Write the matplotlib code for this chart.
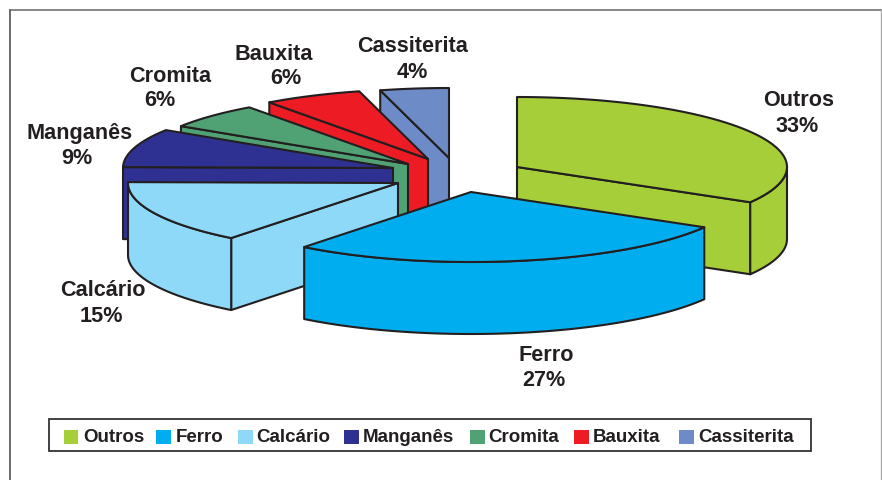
import numpy as np
import matplotlib
matplotlib.use("Agg")
import matplotlib.pyplot as plt
from matplotlib.patches import Polygon, Rectangle

names = ["Outros", "Ferro", "Calcário", "Manganês", "Cromita", "Bauxita", "Cassiterita"]
values = [33.4, 27.2, 14.6, 8.9, 5.9, 5.9, 4.1]
colors = ["#A6CE39", "#00AEEF", "#8ED8F8", "#2E3192", "#50A275", "#ED1C24", "#6C8BC7"]

# exploded slice apex positions (pixels) and label centres
apex = [(517, 168), (471, 193), (398, 184), (393, 169), (408, 165), (428, 160), (449, 159)]
name_pos = [(799, 100), (546, 356), (103, 291), (80, 134), (170, 77), (274, 54), (413, 47)]
pct_pos = [(797, 127), (544, 381), (101, 317), (77, 159), (160, 100), (286, 79), (412, 72)]
legend_sw = [63.5, 156, 238, 344, 470, 574, 679]
legend_tx = [83, 175.5, 256.5, 363, 488, 593, 698]

RX, RY, DEPTH = 270, 70, 72
EDGE = "#231F20"
LW = 1.5
FONT = "Liberation Sans"

fig = plt.figure(figsize=(8.82, 4.81), dpi=100, facecolor="white")
ax = fig.add_axes([0, 0, 1, 1])
ax.set_xlim(0, 882)
ax.set_ylim(481, 0)
ax.axis("off")

# page frame
ax.plot([10, 10], [481, 11], color="#444444", lw=1.1)
ax.plot([10, 881], [11, 11], color="#666666", lw=1.1)
ax.plot([881, 881], [11, 481], color="#AAAAAA", lw=1.0)


def pt(c, deg):
    a = np.radians(deg)
    return np.column_stack([c[0] + RX * np.sin(a), c[1] - RY * np.cos(a)])


def face(xy, color, z):
    ax.add_patch(Polygon(xy, closed=True, facecolor=color, edgecolor=EDGE,
                         lw=LW, joinstyle="round", zorder=z))


shares = np.array(values) / sum(values) * 360
ends = np.cumsum(shares)
starts = ends - shares
down = np.array([0, DEPTH])

# back slices first, front slices last
order = [6, 5, 4, 3, 0, 2, 1]
for z, i in enumerate(order):
    c, col = apex[i], colors[i]
    s, e = starts[i], ends[i]
    capex = np.array(c, float)
    # cut face that looks towards the viewer
    if s > 180:
        o = pt(c, s)[0]
        face([capex, o, o + down, capex + down], col, z * 10 + 1)
    if e < 180:
        o = pt(c, e)[0]
        face([capex, o, o + down, capex + down], col, z * 10 + 1)
    # outer wall, front half of the ellipse only
    lo, hi = max(s, 90), min(e, 270)
    if lo < hi:
        arc = pt(c, np.linspace(lo, hi, 80))
        face(np.vstack([arc, (arc + down)[::-1]]), col, z * 10 + 2)
    # top
    arc = pt(c, np.linspace(s, e, 120))
    face(np.vstack([capex, arc]), col, z * 10 + 3)

# data labels
for n, v, p, q in zip(names, values, name_pos, pct_pos):
    ax.text(p[0], p[1], n, ha="center", va="center", family=FONT,
            weight="bold", fontsize=15.6, color=EDGE, zorder=200)
    ax.text(q[0], q[1], f"{v:.0f}%", ha="center", va="center", family=FONT,
            weight="bold", fontsize=15.6, color=EDGE, zorder=200)

# legend
ax.add_patch(Rectangle((49, 420), 762, 32, facecolor="white", edgecolor="#333333",
                       lw=1.3, zorder=210))
for n, col, sx, tx in zip(names, colors, legend_sw, legend_tx):
    ax.add_patch(Rectangle((sx, 431), 14.5, 13.5, facecolor=col, edgecolor="none", zorder=211))
    ax.text(tx, 437.5, n, ha="left", va="center", family=FONT, weight="bold",
            fontsize=13.5, color=EDGE, zorder=212)

fig.savefig("out.png", dpi=100, facecolor="white")
